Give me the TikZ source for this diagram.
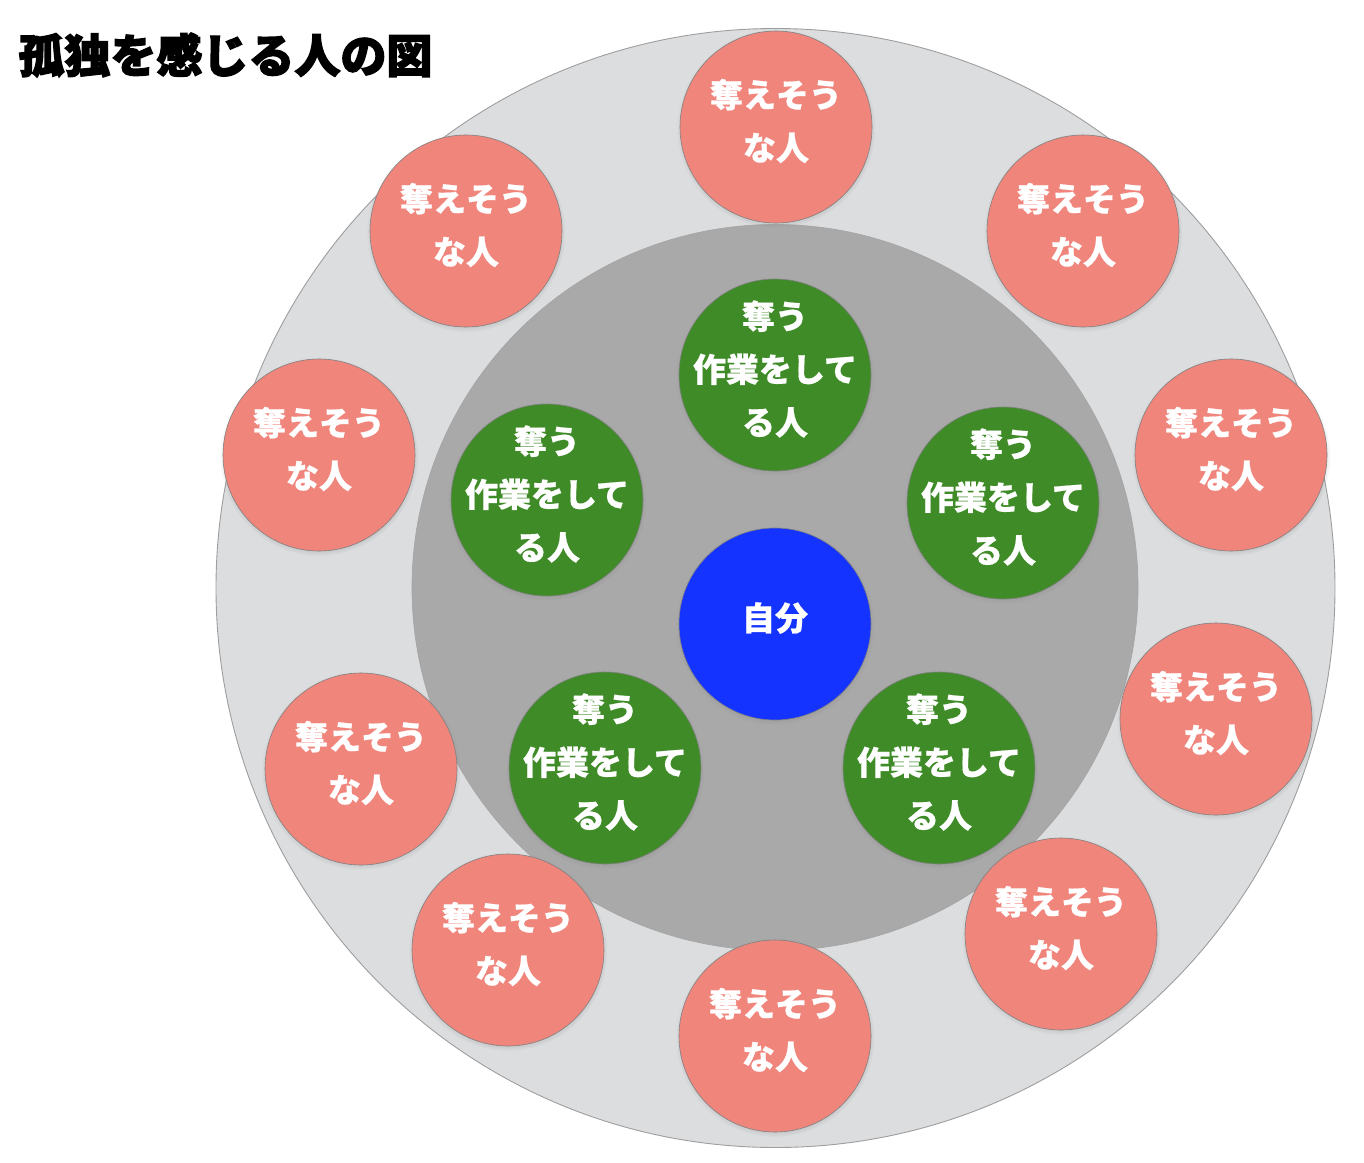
\documentclass[tikz,border=0pt]{standalone}
\usepackage{fontspec}
\newfontfamily\cjk{Noto Sans CJK JP}[BoldFeatures={FakeBold=0.6}]
\newfontfamily\cjkheavy{Noto Sans CJK JP}[FakeBold=2.8]
\usetikzlibrary{shadows}
\definecolor{outerc}{RGB}{220,221,223}
\definecolor{innerc}{RGB}{168,169,168}
\definecolor{redc}{RGB}{240,133,124}
\definecolor{greenc}{RGB}{62,139,39}
\definecolor{bluec}{RGB}{20,51,255}
\tikzset{
  person/.style={circle, minimum size=192pt, inner sep=0pt, draw=black!50, line width=0.6pt,
    circular drop shadow={shadow xshift=0pt, shadow yshift=-1.5pt, shadow scale=1.035, opacity=0.55}},
  lbl/.style={text=white, font=\cjk\bfseries\fontsize{33}{53}\selectfont, align=center, yshift=6pt},
  redp/.style={person, fill=redc},
  greenp/.style={person, fill=greenc},
  bluep/.style={person, fill=bluec},
}
\begin{document}
\begin{tikzpicture}[x=1pt,y=-1pt]
\useasboundingbox (0,0) rectangle (1364,1162);
\node[circle, minimum size=1119pt, inner sep=0pt, fill=outerc, draw=black!38, line width=0.9pt] (outer) at (775.5,588) {};
\node[circle, minimum size=726pt, inner sep=0pt, fill=innerc, draw=black!35, line width=0.7pt] (inner) at (775,587.5) {};
\node[anchor=west, font=\cjkheavy\bfseries\fontsize{46}{50}\selectfont] (title) at (15,55) {孤独を感じる人の図};
% center
\node[bluep] (self) at (775,624) {};
\node[lbl] (selft) at (self) {自分};
% green
\foreach \n/\x/\y in {g1/775/375, g2/547/500, g3/1003/503, g4/605/768, g5/939/768}{
  \node[greenp] (\n) at (\x,\y) {};
  \node[lbl] (\n t) at (\n) {奪う\\作業をして\\る人};
}
% red
\foreach \n/\x/\y in {r1/776/127, r2/466/231, r3/1083/231, r4/319/455, r5/1231/455, r6/361/769, r7/1216/719, r8/508/950, r9/1061/934, r10/775/1036}{
  \node[redp] (\n) at (\x,\y) {};
  \node[lbl] (\n t) at (\n) {奪えそう\\な人};
}
\end{tikzpicture}
\end{document}
